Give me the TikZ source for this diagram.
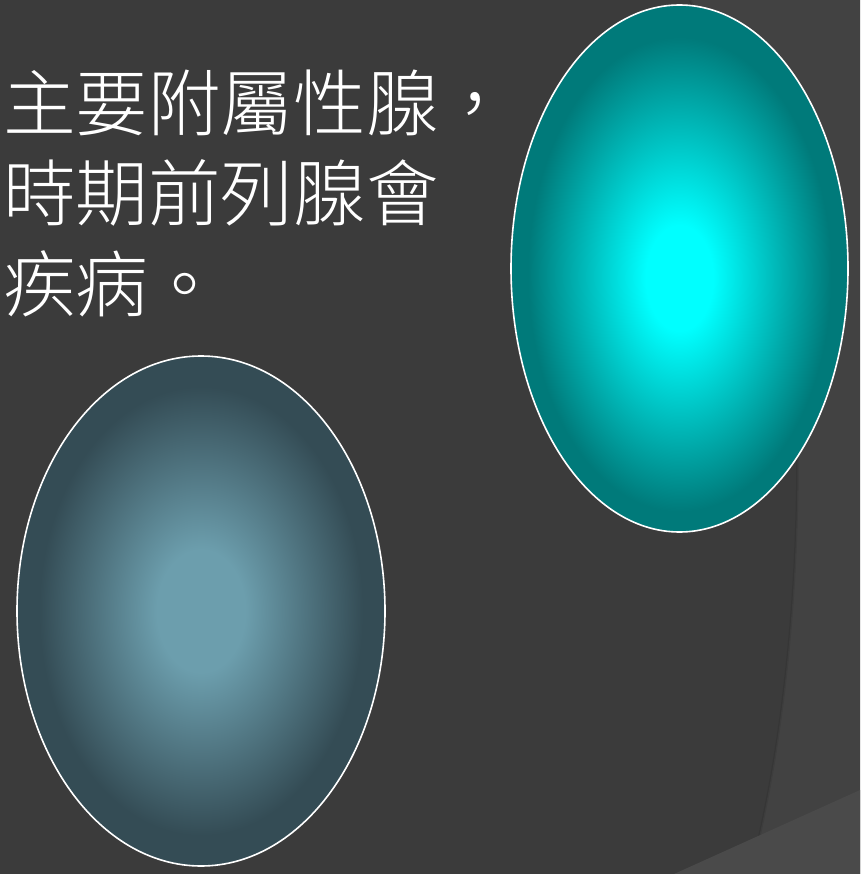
\documentclass[tikz,border=0pt]{standalone}
\usepackage{fontspec}
\newfontfamily\cjk{Noto Sans CJK TC Light}
\usetikzlibrary{shapes.geometric}
\definecolor{bgdark}{HTML}{3B3B3B}
\definecolor{bglight}{HTML}{424242}
\definecolor{bgband}{HTML}{4A4A4A}
\definecolor{cAin}{HTML}{00FFFF}
\definecolor{cAout}{HTML}{007A7A}
\definecolor{cBin}{HTML}{6C9EAD}
\definecolor{cBout}{HTML}{344C55}
\pgfdeclareradialshading{ballA}{\pgfpoint{0bp}{-1bp}}{color(0bp)=(cAin); color(5bp)=(cAin); color(22.5bp)=(cAout); color(50bp)=(cAout)}
\pgfdeclareradialshading{ballB}{\pgfpoint{0bp}{0bp}}{color(0bp)=(cBin); color(6bp)=(cBin); color(22bp)=(cBout); color(50bp)=(cBout)}
\tikzset{
  line/.style={inner sep=0pt, outer sep=0pt, anchor=base west, text=white,
    font=\cjk\fontsize{72.6}{90}\selectfont},
  ball/.style={ellipse, draw=white, line width=1.6pt, inner sep=0pt, outer sep=0pt}
}
\begin{document}
\begin{tikzpicture}[x=1pt,y=-1pt]
  \useasboundingbox (0,0) rectangle (860,874);
  \fill[bgdark] (0,0) rectangle (860,874);
  % lighter region right of the arc
  \fill[bglight] (690,0) .. controls (790,200) and (800,400) .. (797,500)
        .. controls (794,650) and (775,780) .. (750,874) -- (860,874) -- (860,0) -- cycle;
  \draw[black!90, line width=2.5pt, opacity=0.12] (690,0) .. controls (790,200) and (800,400) .. (797,500)
        .. controls (794,650) and (775,780) .. (750,874);
  % bottom band
  \fill[bgband] (674,874) -- (860,790) -- (860,874) -- cycle;
  % text
  \node[line] (l1) at (3,131) {主要附屬性腺，};
  \node[line] (l2) at (3,221) {時期前列腺會};
  \node[line] (l3) at (3,311) {疾病。};
  % ellipses
  \node[ball, minimum width=337pt, minimum height=527pt, shading=ballA] (ea) at (679.5,268.5) {};
  \node[ball, minimum width=368pt, minimum height=510pt, shading=ballB] (eb) at (201,611) {};
\end{tikzpicture}
\end{document}
